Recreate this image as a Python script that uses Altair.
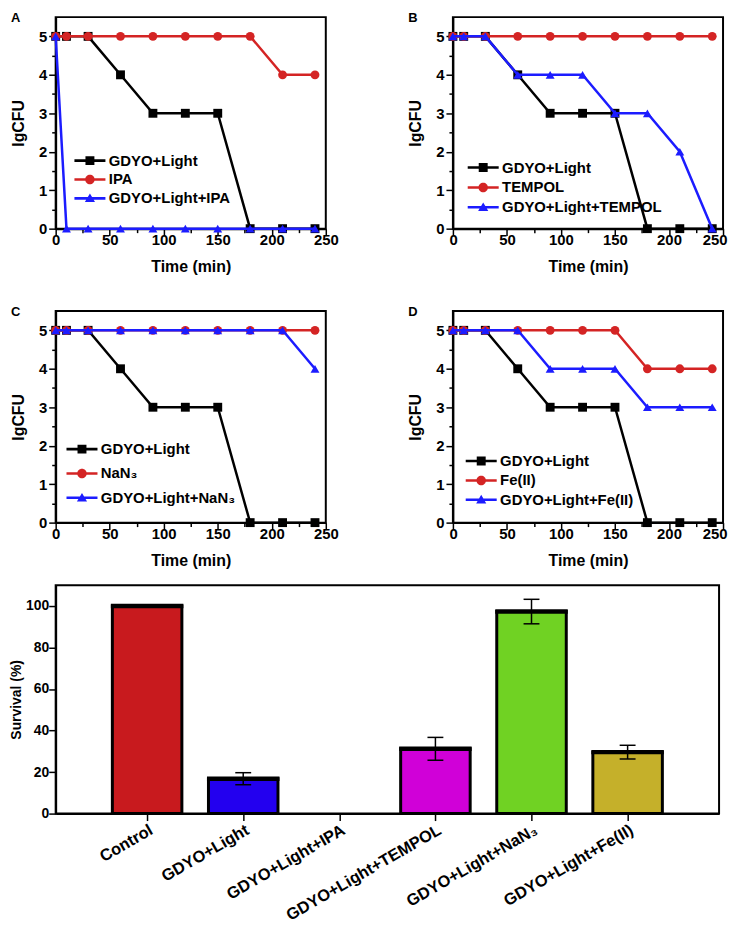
import json
import altair as alt
import pandas as pd

FONT = "Liberation Sans"

# ---------------- data: line panels ----------------
times = [0, 10, 30, 60, 90, 120, 150, 180, 210, 240]

gdyo_light = [5, 5, 5, 4, 3, 3, 3, 0, 0, 0]
ipa = [5, 5, 5, 5, 5, 5, 5, 5, 4, 4]
gdyo_light_ipa = [5, 0, 0, 0, 0, 0, 0, 0, 0, 0]
tempol = [5, 5, 5, 5, 5, 5, 5, 5, 5, 5]
gdyo_light_tempol = [5, 5, 5, 4, 4, 4, 3, 3, 2, 0]
nan3 = [5, 5, 5, 5, 5, 5, 5, 5, 5, 5]
gdyo_light_nan3 = [5, 5, 5, 5, 5, 5, 5, 5, 5, 4]
fe2 = [5, 5, 5, 5, 5, 5, 5, 4, 4, 4]
gdyo_light_fe2 = [5, 5, 5, 5, 4, 4, 4, 3, 3, 3]

panel_letters = ["A", "B", "C", "D"]
panel_series_names = [
    ["GDYO+Light", "IPA", "GDYO+Light+IPA"],
    ["GDYO+Light", "TEMPOL", "GDYO+Light+TEMPOL"],
    ["GDYO+Light", "NaN\u2083", "GDYO+Light+NaN\u2083"],
    ["GDYO+Light", "Fe(II)", "GDYO+Light+Fe(II)"],
]
panel_series_values = [
    [gdyo_light, ipa, gdyo_light_ipa],
    [gdyo_light, tempol, gdyo_light_tempol],
    [gdyo_light, nan3, gdyo_light_nan3],
    [gdyo_light, fe2, gdyo_light_fe2],
]

series_colors = ["#000000", "#d42424", "#1c1cff"]
series_markers = ["square", "circle", "triangle-up"]
# legend symbols: a short line with the marker in its middle
legend_paths = [
    "M-2.08,-0.17H2.08V0.17H-2.08Z M-0.6,-0.6H0.6V0.6H-0.6Z",
    "M-2.08,-0.17H2.08V0.17H-2.08Z M-0.64,0A0.64,0.64 0 1,1 0.64,0A0.64,0.64 0 1,1 -0.64,0Z",
    "M-2.08,-0.17H2.08V0.17H-2.08Z M0,-0.66L0.68,0.5L-0.68,0.5Z",
]
# legend position (x, y), row gap, and whether the panel sits in the right column
legend_layout = [(16, 137, 3, False), (12, 144, 4, True),
                 (8, 131.5, 8.5, False), (10, 143.5, 3.5, True)]

# ---------------- data: bar chart ----------------
bar_categories = ["Control", "GDYO+Light", "GDYO+Light+IPA", "GDYO+Light+TEMPOL",
                  "GDYO+Light+NaN\u2083", "GDYO+Light+Fe(II)"]
bar_means = [100, 16.8, 0, 31.2, 97.3, 29.6]
bar_errors = [0, 2.9, 0, 5.5, 5.9, 3.3]
bar_colors = ["#c81a1e", "#2300ef", "#ffffff", "#d000d8", "#70d223", "#c5b02a"]


def tick_size(test, major, minor):
    return {"condition": {"test": test, "value": major}, "value": minor}


def make_panel(letter, names, values, lx, ly, rp, right_col):
    x_axis_kw = dict(values=list(range(0, 251, 25)),
                     labelExpr="datum.value % 50 === 0 ? datum.label : ''",
                     labelPadding=-3, titlePadding=11,
                     tickSize=tick_size("datum.value % 50 === 0", 7, 4))
    if right_col:
        x_axis_kw.update(labelFlush=True, labelFlushOffset=4)
    else:
        x_axis_kw.update(labelFlush=False)
    x_enc = alt.X("time:Q", title="Time (min)",
                  scale=alt.Scale(domain=[0, 250], nice=False),
                  axis=alt.Axis(**x_axis_kw))
    y_enc = alt.Y(
        "value:Q", title="lgCFU",
        scale=alt.Scale(domain=[0, 5.5], nice=False),
        axis=alt.Axis(values=[i * 0.5 for i in range(11)],
                      labelExpr="datum.value % 1 === 0 ? format(datum.value, 'd') : ''",
                      labelPadding=2, titlePadding=12,
                      tickSize=tick_size("datum.value % 1 === 0", 7, 4)),
    )
    layers = []
    for name, vals, col, mk in zip(names, values, series_colors, series_markers):
        df = pd.DataFrame({"time": times, "value": vals, "series": name})
        base = alt.Chart(df).encode(x=x_enc, y=y_enc)
        layers.append(base.mark_line(color=col, strokeWidth=2.5))
        layers.append(base.mark_point(shape=mk, filled=True, color=col, size=80, opacity=1))
    leg = alt.Legend(title=None, orient="none", legendX=lx, legendY=ly,
                     symbolSize=225, symbolStrokeWidth=0, symbolOpacity=1, symbolOffset=11,
                     labelFont=FONT, labelFontSize=15, labelFontWeight="bold",
                     labelColor="black", labelOffset=11.5, rowPadding=rp, padding=0,
                     labelLimit=400)
    legend_df = pd.DataFrame({"series": names})
    legend_layer = alt.Chart(legend_df).transform_filter("false").mark_point(filled=True).encode(
        color=alt.Color("series:N", scale=alt.Scale(domain=names, range=series_colors), legend=leg),
        shape=alt.Shape("series:N", scale=alt.Scale(domain=names, range=legend_paths), legend=leg),
    )
    letter_layer = alt.Chart(pd.DataFrame({"letter": [letter]})).mark_text(
        font=FONT, fontSize=13, fontWeight="bold", color="black",
        align="left", baseline="top").encode(
        text="letter:N", x=alt.value(-45), y=alt.value(-5))
    return alt.layer(*layers, legend_layer, letter_layer).properties(width=272, height=213)


panels = [make_panel(letter, names, vals, lx, ly, rp, rc)
          for letter, names, vals, (lx, ly, rp, rc) in
          zip(panel_letters, panel_series_names, panel_series_values, legend_layout)]

grid = alt.concat(*panels, columns=2, spacing={"row": 30, "column": 67}).resolve_scale(
    color="independent", shape="independent")

# ---------------- bar chart ----------------
bar_df = pd.DataFrame({
    "cat": bar_categories,
    "pos": list(range(1, len(bar_categories) + 1)),
    "mean": bar_means,
    "err": bar_errors,
    "color": bar_colors,
})
bar_df["lo"] = bar_df["mean"] - bar_df["err"]
bar_df["hi"] = bar_df["mean"] + bar_df["err"]

label_array = json.dumps(bar_categories, ensure_ascii=False)
bx = alt.X("pos:Q", title=None,
           scale=alt.Scale(domain=[0.1, 6.9], nice=False, zero=False),
           axis=alt.Axis(values=list(range(1, 7)),
                         labelExpr=f"{label_array}[datum.value - 1]",
                         labelAngle=-30, labelAlign="right", labelBaseline="top",
                         labelOverlap=False, labelFlush=False, labelLimit=400,
                         labelFontSize=16.5, tickSize=7, labelPadding=1))
by_scale = alt.Scale(domain=[0, 110], nice=False)
by_axis = alt.Axis(values=list(range(0, 111, 10)),
                   labelExpr="datum.value % 20 === 0 ? datum.label : ''",
                   labelFontSize=14, labelPadding=0, titleFontSize=14, titlePadding=2,
                   tickSize=tick_size("datum.value % 20 === 0", 7, 4))

bbase = alt.Chart(bar_df)
bars = bbase.transform_filter("datum.mean > 0").mark_bar(
    size=70, stroke="black", strokeWidth=3, orient="vertical").encode(
    x=bx,
    y=alt.Y("mean:Q", title="Survival (%)", scale=by_scale, axis=by_axis, stack=None),
    color=alt.Color("color:N", scale=None),
)
tops = bbase.transform_filter("datum.mean > 0").mark_tick(
    orient="horizontal", size=73, thickness=4.5, color="black", opacity=1).encode(
    x=bx, y=alt.Y("mean:Q", scale=by_scale))
err_rule = bbase.transform_filter("datum.err > 0").mark_rule(
    color="black", strokeWidth=1.5).encode(
    x=bx, y=alt.Y("lo:Q", scale=by_scale), y2="hi:Q")
cap_lo = bbase.transform_filter("datum.err > 0").mark_tick(
    orient="horizontal", size=16, thickness=1.5, color="black", opacity=1).encode(
    x=bx, y=alt.Y("lo:Q", scale=by_scale))
cap_hi = bbase.transform_filter("datum.err > 0").mark_tick(
    orient="horizontal", size=16, thickness=1.5, color="black", opacity=1).encode(
    x=bx, y=alt.Y("hi:Q", scale=by_scale))

bar_chart = alt.layer(bars, tops, err_rule, cap_lo, cap_hi).properties(width=668, height=230)

chart = alt.vconcat(grid, bar_chart, spacing=15).properties(
    padding={"left": 0, "top": 0, "right": 0, "bottom": 0}
).configure_view(
    stroke="black", strokeWidth=2
).configure_axis(
    labelFont=FONT, labelFontWeight="bold", labelFontSize=15, labelColor="black",
    titleFont=FONT, titleFontWeight="bold", titleFontSize=16, titleColor="black",
    domainColor="black", domainWidth=2, tickColor="black", tickWidth=1.5,
    grid=False, labelPadding=2, titlePadding=4,
)

chart.save("out.html", embed_options={"renderer": "svg", "actions": False})
